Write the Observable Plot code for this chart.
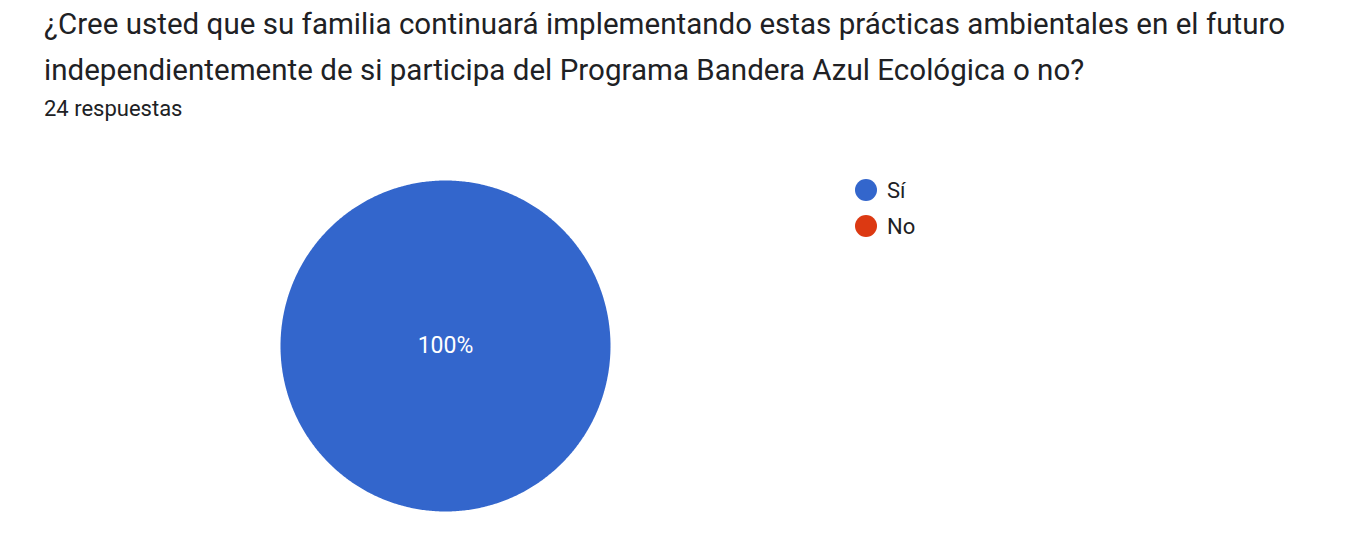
<!DOCTYPE html>
<html>
<head>
<meta charset="utf-8">
<script src="https://cdn.jsdelivr.net/npm/d3@7"></script>
<script src="https://cdn.jsdelivr.net/npm/@observablehq/plot@0.6"></script>
<style>
  html, body { margin: 0; padding: 0; background: #fff; }
  body { width: 1353px; height: 533px; position: relative; overflow: hidden; font-family: Roboto, "Noto Sans", sans-serif; color: #202124; }
  #title { position: absolute; left: 44px; top: 1px; font-size: 29.5px; line-height: 46px; letter-spacing: 0.03px; }
  #subtitle { position: absolute; left: 44px; top: 95px; font-size: 22px; line-height: 28px; }
  #chart { position: absolute; left: 0; top: 130px; }
  #legend { position: absolute; left: 855px; top: 172px; font-size: 22px; }
  .item { display: flex; align-items: center; height: 36px; }
  .sw { width: 22px; height: 22px; border-radius: 50%; margin-right: 10px; }
</style>
</head>
<body>
<div id="title">¿Cree usted que su familia continuará implementando estas prácticas ambientales en el futuro<br>independientemente de si participa del Programa Bandera Azul Ecológica o no?</div>
<div id="subtitle">24 respuestas</div>
<div id="chart"></div>
<div id="legend"></div>
<script>
const categories = ["Sí", "No"];
const counts = [24, 0];
const colors = ["#3366cc", "#dc3912"];

const total = d3.sum(counts);
const data = categories.map((c, i) => ({category: c, value: counts[i]}));
const arcs = d3.pie().sort(null).value(d => d.value)(data);

// polygon points for each slice, in unit-circle coordinates (angle from 12 o'clock, clockwise)
const pts = [];
arcs.forEach(a => {
  if (a.endAngle - a.startAngle <= 0) return;
  const full = a.endAngle - a.startAngle >= 2 * Math.PI - 1e-9;
  if (!full) pts.push({category: a.data.category, x: 0, y: 0});
  const n = Math.max(2, Math.ceil((a.endAngle - a.startAngle) / (Math.PI / 360)));
  for (let k = 0; k <= n; k++) {
    const t = a.startAngle + (a.endAngle - a.startAngle) * k / n;
    pts.push({category: a.data.category, x: Math.sin(t), y: Math.cos(t)});
  }
});
const labels = arcs.filter(a => a.data.value > 0).map(a => {
  const frac = a.data.value / total;
  const mid = (a.startAngle + a.endAngle) / 2;
  const r = frac >= 1 ? 0 : 0.6;
  return {x: r * Math.sin(mid), y: r * Math.cos(mid), text: Math.round(frac * 100) + "%"};
});

const plot = Plot.plot({
  width: 1353,
  height: 403,
  marginLeft: 280,
  marginRight: 743,
  marginTop: 50,
  marginBottom: 22,
  x: {domain: [-1, 1], axis: null},
  y: {domain: [-1, 1], axis: null},
  color: {domain: categories, range: colors},
  style: {fontFamily: "Roboto, sans-serif", background: "transparent"},
  marks: [
    Plot.line(pts, {x: "x", y: "y", z: "category", fill: "category", stroke: "none", curve: "linear-closed"}),
    Plot.text(labels, {x: "x", y: "y", text: "text", fill: "white", fontSize: 23})
  ]
});
document.getElementById("chart").appendChild(plot);

const legend = document.getElementById("legend");
categories.forEach((c, i) => {
  const item = document.createElement("div");
  item.className = "item";
  item.innerHTML = `<span class="sw" style="background:${colors[i]}"></span><span>${c}</span>`;
  legend.appendChild(item);
});
</script>
</body>
</html>
